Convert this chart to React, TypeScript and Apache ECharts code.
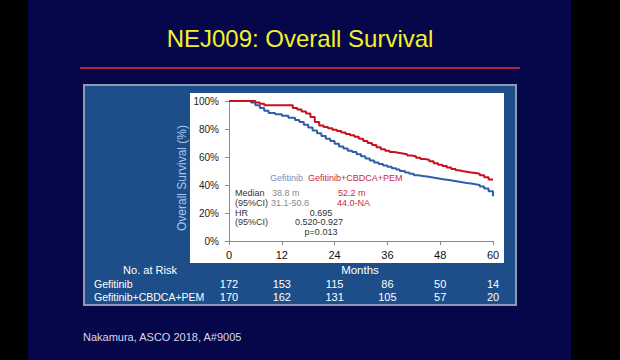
import React, { useEffect, useRef } from "react";
import * as echarts from "echarts";

// Kaplan-Meier curves (months, overall survival %)
const gefMonths = [0, 4, 5, 6, 7, 8, 9, 10.5, 12, 13.5, 15, 16, 17, 18, 19, 20, 21, 22, 23, 24, 25, 26, 27, 28, 29, 30, 31, 32, 33, 34, 35, 36, 37, 38, 38.8, 40, 41, 42, 43, 44, 45, 46, 47, 48, 49, 50, 51, 52, 53, 54, 55, 56, 57, 58, 59, 60];
const gefSurv = [100, 100, 99, 97, 95, 93, 91.5, 90.5, 89.5, 88, 86.5, 85, 83, 81, 79, 77, 75, 73, 71.5, 69.5, 67.5, 66, 64.5, 63.5, 62, 60.5, 59, 57.5, 56, 55, 54, 53, 52, 51, 50, 49, 48, 47, 46.5, 46, 45.5, 45, 44.5, 44, 43.5, 43, 42.5, 42, 41.5, 41, 40.5, 40, 39, 37.5, 35.5, 32];

const combMonths = [0, 5, 6, 7, 8, 13.5, 14.5, 15.5, 16.5, 17.5, 18.5, 19.5, 20.5, 21.5, 22.5, 23.5, 24.5, 25.5, 26.5, 27.5, 28.5, 29.5, 30.5, 31.5, 32.5, 33.5, 34.5, 35.5, 36.5, 37.5, 38.5, 39.5, 40.5, 41.5, 42.5, 43.5, 44.5, 45.5, 46.5, 47.5, 48.5, 49.5, 50.5, 51.5, 52.2, 53, 54, 55, 56, 57, 58, 59, 60];
const combSurv = [100, 100, 99, 98, 97, 97, 95, 94, 92.5, 91, 88.5, 85, 82.5, 81.5, 80.5, 79.5, 78.5, 77.5, 76.5, 75.5, 74.5, 73, 71.5, 70, 68.5, 67, 65.5, 64.5, 63.5, 63, 62.5, 62, 61, 60.5, 59.5, 58.5, 58, 57, 55.5, 54.5, 53.5, 52.5, 51.5, 50.5, 50, 49.5, 49, 48.5, 48, 47, 45.5, 44, 44];

const riskMonths = [0, 12, 24, 36, 48, 60];
const gefRisk = [172, 153, 115, 86, 50, 14];
const combRisk = [170, 162, 131, 105, 57, 20];

const FONT = "'Liberation Sans', Arial, sans-serif";
const BLUE = "#2f5fa8";
const RED = "#c8101e";

const GRID = { left: 229, top: 101, width: 264, height: 140 };

export default function App() {
  const ref = useRef<HTMLDivElement>(null);

  useEffect(() => {
    if (!ref.current) return;
    const chart = echarts.init(ref.current, null, { renderer: "svg" });
    const xPix = (m: number) => GRID.left + (m / 60) * GRID.width;

    const t = (text: string, x: number, y: number, fill: string, size: number, align = "left", extra: any = {}) => ({
      type: "text",
      x,
      y,
      z: 10,
      style: { text, fill, fontSize: size, fontFamily: FONT, textAlign: align, textVerticalAlign: "middle", ...extra },
    });

    const riskTexts: any[] = [];
    riskMonths.forEach((m, i) => {
      riskTexts.push(t(String(gefRisk[i]), xPix(m), 284, "#ffffff", 11, "center"));
      riskTexts.push(t(String(combRisk[i]), xPix(m), 297, "#ffffff", 11, "center"));
    });

    chart.setOption({
      animation: false,
      backgroundColor: "#000000",
      grid: { left: GRID.left, top: GRID.top, width: GRID.width, height: GRID.height },
      xAxis: {
        type: "value",
        min: 0,
        max: 60,
        interval: 12,
        axisLine: { show: true, lineStyle: { color: "#8a8a8a", width: 1 } },
        axisTick: { show: true, length: 4, lineStyle: { color: "#8a8a8a" } },
        axisLabel: { color: "#111111", fontSize: 11, fontFamily: FONT, margin: 8 },
        splitLine: { show: false },
      },
      yAxis: {
        type: "value",
        min: 0,
        max: 100,
        interval: 20,
        axisLine: { show: true, lineStyle: { color: "#8a8a8a", width: 1 } },
        axisTick: { show: true, length: 4, lineStyle: { color: "#8a8a8a" } },
        axisLabel: { color: "#222222", fontSize: 10, fontFamily: FONT, margin: 10, formatter: "{value}%" },
        splitLine: { show: false },
      },
      series: [
        {
          type: "line",
          name: "Gefitinib",
          step: "end",
          data: gefMonths.map((m, i) => [m, gefSurv[i]]),
          showSymbol: false,
          lineStyle: { color: BLUE, width: 2 },
          z: 3,
        },
        {
          type: "line",
          name: "Gefitinib+CBDCA+PEM",
          step: "end",
          data: combMonths.map((m, i) => [m, combSurv[i]]),
          showSymbol: false,
          lineStyle: { color: RED, width: 2 },
          z: 4,
        },
      ],
      graphic: [
        { type: "rect", z: -10, shape: { x: 28, y: 0, width: 543, height: 360 }, style: { fill: "#06064a" } },
        t("NEJ009: Overall Survival", 300, 38, "#f2f226", 24, "center"),
        { type: "line", z: -5, shape: { x1: 80, y1: 68, x2: 520, y2: 68 }, style: { stroke: "#b0243f", lineWidth: 2 } },
        { type: "rect", z: -5, shape: { x: 84, y: 85, width: 432, height: 220 }, style: { fill: "#1d4e89", stroke: "#8b9bb6", lineWidth: 2 } },
        { type: "rect", z: -4, shape: { x: 190, y: 93, width: 314, height: 170 }, style: { fill: "#ffffff" } },
        t("Overall Survival (%)", 182, 178, "#a9c7ee", 12, "center", {}),
        t("Months", 360, 270, "#ffffff", 11.5, "center"),
        t("No. at Risk", 150, 270, "#ffffff", 11, "center"),
        t("Gefitinib", 94, 284, "#ffffff", 10.5),
        t("Gefitinib+CBDCA+PEM", 94, 297, "#ffffff", 10.5),
        ...riskTexts,
        t("Gefitinib", 270, 178, "#7a8bbf", 9),
        t("Gefitinib+CBDCA+PEM", 308, 178, "#c8283c", 9),
        t("Median", 235, 193, "#333333", 9),
        t("38.8 m", 272, 193, "#8a8a8a", 9),
        t("52.2 m", 338, 193, "#c8283c", 9),
        t("(95%CI)", 235, 203, "#333333", 9),
        t("31.1-50.8", 271, 203, "#8a8a8a", 9),
        t("44.0-NA", 337, 203, "#c8283c", 9),
        t("HR", 235, 213, "#333333", 9),
        t("0.695", 321, 213, "#333333", 9, "center"),
        t("(95%CI)", 235, 222, "#333333", 9),
        t("0.520-0.927", 319, 222, "#333333", 9, "center"),
        t("p=0.013", 321, 232, "#333333", 9, "center"),
        t("Nakamura, ASCO 2018, A#9005", 83, 337, "#d8d8e6", 11),
      ],
    });

    // rotate the y-axis title
    const opt: any = chart.getOption();
    const g = opt.graphic[0].elements;
    const idx = g.findIndex((e: any) => e.style && e.style.text === "Overall Survival (%)");
    if (idx >= 0) {
      const arr = opt.graphic[0].elements.map((e: any, i: number) => (i === idx ? { id: e.id, rotation: Math.PI / 2 } : { id: e.id }));
      chart.setOption({ graphic: arr });
    }

    return () => chart.dispose();
  }, []);

  return <div ref={ref} style={{ position: "fixed", left: 0, top: 0, width: 620, height: 360 }} />;
}
